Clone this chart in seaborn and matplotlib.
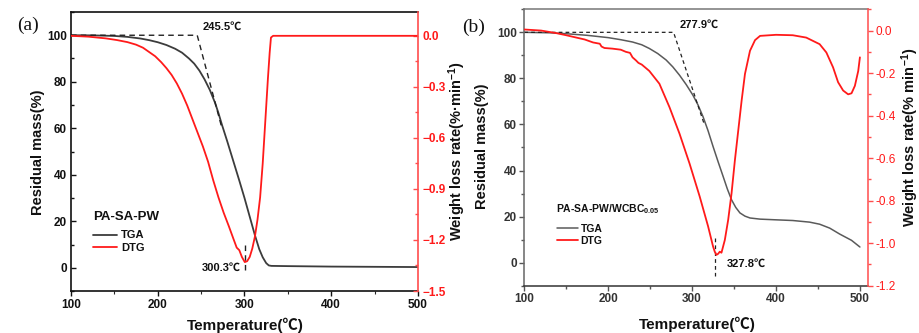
import matplotlib
matplotlib.use("Agg")
import matplotlib.pyplot as plt
import seaborn as sns
from matplotlib.ticker import MultipleLocator, FuncFormatter

# ---------------- data ----------------
# Panel (a) PA-SA-PW
tga_a_temp = [100, 125, 150, 165, 180, 190, 200, 210, 220, 228, 236, 242, 248, 254, 260, 266,
              270, 274, 280, 287, 294, 300, 306, 312, 317, 321, 325, 328, 331, 350, 400, 450, 500]
tga_a_mass = [100, 99.95, 99.7, 99.3, 98.6, 97.9, 97.0, 95.8, 94.2, 92.5, 90.0, 87.8, 84.8, 81.0,
              76.5, 71.0, 66.5, 61.5, 54.5, 46.0, 37.5, 30.0, 22.0, 14.0, 8.0, 4.5, 2.0, 1.0, 0.8,
              0.7, 0.5, 0.4, 0.3]
dtg_a_temp = [100, 120, 140, 153, 165, 175, 183, 190, 197, 204, 210, 216, 222, 228, 234, 240,
              246, 252, 258, 264, 270, 276, 282, 287, 291, 294, 297, 300.3, 303, 306, 309, 312,
              315, 318, 321, 324, 327, 329, 330.5, 333, 400, 500]
dtg_a_rate = [0.0, -0.005, -0.015, -0.025, -0.037, -0.052, -0.07, -0.095, -0.12, -0.155, -0.19,
              -0.23, -0.28, -0.34, -0.41, -0.49, -0.57, -0.65, -0.74, -0.85, -0.95, -1.04, -1.12,
              -1.19, -1.245, -1.26, -1.30, -1.33, -1.325, -1.30, -1.25, -1.18, -1.08, -0.95,
              -0.75, -0.50, -0.25, -0.10, -0.01, 0.0, 0.0, 0.0]
onset_a = 245.5
peak_a = 300.3
tangent_a_end = (274, 60)

# Panel (b) PA-SA-PW/WCBC0.05
tga_b_temp = [100, 130, 150, 175, 200, 215, 229, 240, 249, 259, 269, 277, 285, 293, 301, 307,
              313, 319, 325, 331, 337, 342, 347, 352, 357, 363, 369, 381, 400, 420, 440, 452,
              464, 476, 490, 500]
tga_b_mass = [100, 99.8, 99.4, 98.7, 97.7, 96.8, 95.8, 94.6, 93.0, 90.8, 88.0, 85.0, 81.4, 77.3,
              72.7, 68.5, 63.4, 57.3, 50.4, 43.8, 37.4, 32.0, 27.3, 24.0, 21.6, 20.2, 19.4, 18.9,
              18.6, 18.3, 17.6, 16.7, 15.0, 12.4, 9.7, 6.8]
dtg_b_temp = [100, 120, 138, 150, 162, 172, 182, 190, 192, 195.5, 205, 215, 221, 226, 229,
              233, 236, 240, 249, 261, 273, 285, 297, 309, 319, 325, 327, 329, 331, 333, 335,
              339, 343, 347, 351, 355, 359, 363, 369, 375, 381, 400, 420, 436, 452, 460, 468,
              474, 480, 486, 490, 494, 498, 500]
dtg_b_rate = [0.005, 0.0, -0.012, -0.022, -0.033, -0.042, -0.056, -0.062, -0.075, -0.082,
              -0.085, -0.09, -0.10, -0.105, -0.126, -0.14, -0.152, -0.16, -0.19, -0.25, -0.36,
              -0.485, -0.626, -0.78, -0.92, -1.016, -1.04, -1.055, -1.05, -1.04, -1.045,
              -0.985, -0.89, -0.766, -0.61, -0.47, -0.33, -0.204, -0.095, -0.045, -0.025,
              -0.02, -0.022, -0.033, -0.064, -0.103, -0.173, -0.243, -0.282, -0.30, -0.295,
              -0.26, -0.19, -0.126]
onset_b = 277.9
peak_b = 327.8
tangent_b_end = (314, 60.6)

series_labels = ["TGA", "DTG"]

RED = "#ff1a1a"
RED_AX = "#ff4d4d"
DARK = "#3c3c3c"
GRAY = "#5a5a5a"

sns.set_theme(style="ticks")
plt.rcParams['font.family'] = ['Liberation Sans', 'Noto Sans CJK SC', 'DejaVu Sans']
plt.rcParams['font.weight'] = 'bold'
plt.rcParams['axes.labelweight'] = 'bold'
plt.rcParams['mathtext.fontset'] = 'custom'
plt.rcParams['mathtext.rm'] = 'Liberation Sans:bold'
plt.rcParams['mathtext.bf'] = 'Liberation Sans:bold'
plt.rcParams['mathtext.it'] = 'Liberation Sans:bold'
plt.rcParams['mathtext.default'] = 'bf'

W, H = 920, 333
fig = plt.figure(figsize=(9.2, 3.33), dpi=100)


def rect(l, t, r, b):
    return [l / W, 1 - b / H, (r - l) / W, (b - t) / H]


def fx(px):
    return px / W


def fy(py):
    return 1 - py / H


# ================= Panel (a) =================
A_L, A_T, A_R, A_B = 71, 12, 418, 291
axA = fig.add_axes(rect(A_L, A_T, A_R, A_B))
axA2 = axA.twinx()
sns.lineplot(x=tga_a_temp, y=tga_a_mass, ax=axA, color=DARK, lw=1.3)
sns.lineplot(x=dtg_a_temp, y=dtg_a_rate, ax=axA2, color=RED, lw=1.3)
axA.plot([100, onset_a, tangent_a_end[0]], [100, 100, tangent_a_end[1]],
         ls=(0, (4, 3)), color='#222222', lw=1.0)
axA.plot([peak_a, peak_a], [10, -2.5], ls=(0, (4, 3)), color='#222222', lw=1.0)
axA.text(252, 101.3, "245.5℃", fontsize=8, ha='left', va='bottom', color='#111')
axA.text(296, 0, "300.3℃", fontsize=8, ha='right', va='center', color='#111')

axA.set_xlim(100, 500)
axA.set_ylim(-10, 110)
axA2.set_ylim(-1.5, 0.14)
axA.xaxis.set_major_locator(MultipleLocator(100))
axA.xaxis.set_minor_locator(MultipleLocator(50))
axA.set_yticks(range(0, 101, 20))
axA.yaxis.set_minor_locator(MultipleLocator(10))
axA2.set_yticks([-1.5, -1.2, -0.9, -0.6, -0.3, 0.0])
axA2.yaxis.set_minor_locator(MultipleLocator(0.15))
axA2.yaxis.set_major_formatter(FuncFormatter(
    lambda v, p: ("%.1f" % v).replace("-", "\u2212") if abs(v) > 1e-9 else "0.0"))
axA.tick_params(axis='x', direction='out', length=3.5, width=1, labelsize=8.5, colors='#111', pad=2)
axA.tick_params(axis='x', which='minor', direction='out', length=2, width=0.8)
axA.tick_params(axis='y', which='both', direction='in', length=3.5, width=1, labelsize=8.5,
                colors='#111', pad=3)
axA.tick_params(axis='y', which='minor', length=2)
axA2.tick_params(axis='y', which='both', direction='in', length=3.5, width=1, labelsize=8.5,
                 colors=RED_AX, labelcolor=RED, pad=3)
axA2.tick_params(axis='y', which='minor', length=2)
for s in ['left', 'bottom', 'top']:
    axA.spines[s].set_color('#111')
    axA.spines[s].set_linewidth(1.2)
axA.spines['right'].set_visible(False)
for s in ['left', 'bottom', 'top']:
    axA2.spines[s].set_visible(False)
axA2.spines['right'].set_color(RED_AX)
axA2.spines['right'].set_linewidth(1.2)
axA.set_ylabel("")
axA2.set_ylabel("")
for lab in axA.get_xticklabels() + axA.get_yticklabels() + axA2.get_yticklabels():
    lab.set_fontweight('bold')

fig.text(fx(93), fy(217), "PA-SA-PW", ha='left', va='center', fontsize=9.5,
         fontweight='bold', color='#111')
hA = [axA.get_lines()[0], axA2.get_lines()[0]]
legA = axA.legend(hA, series_labels, loc='upper left',
                  bbox_to_anchor=((93 - A_L) / (A_R - A_L), (A_B - 230.5) / (A_B - A_T)),
                  frameon=False, fontsize=8, handlelength=2.2, handletextpad=0.3,
                  labelspacing=0.25, borderpad=0, borderaxespad=0)
for t in legA.get_texts():
    t.set_fontweight('bold')
    t.set_color('#111')

fig.text(fx(38), fy(152), "Residual mass(%)", rotation=90, ha='center', va='center',
         fontsize=10.5, fontweight='bold', color='#111')
fig.text(fx(457), fy(151), "Weight loss rate(%·min$^{-1}$)", rotation=90, ha='center',
         va='center', fontsize=10.5, fontweight='bold', color='#111')
fig.text(fx(245), fy(325), "Temperature(℃)", ha='center', va='center',
         fontsize=11, fontweight='bold', color='#111')
fig.text(fx(28), fy(25), "(a)", ha='center', va='center', fontsize=14,
         family=['Liberation Serif', 'DejaVu Serif'], fontweight='normal', color='#111')

# ================= Panel (b) =================
B_L, B_T, B_R, B_B = 524.3, 9.3, 868.3, 285.7
axB = fig.add_axes(rect(B_L, B_T, B_R, B_B))
axB2 = axB.twinx()
sns.lineplot(x=tga_b_temp, y=tga_b_mass, ax=axB, color=GRAY, lw=1.1)
sns.lineplot(x=dtg_b_temp, y=dtg_b_rate, ax=axB2, color=RED, lw=1.3)
axB.plot([100, onset_b, tangent_b_end[0]], [100, 100, tangent_b_end[1]],
         ls=(0, (3, 2.5)), color='#222222', lw=0.9)
axB.plot([peak_b, peak_b], [10.7, -6], ls=(0, (3, 2.5)), color='#222222', lw=0.9)
axB.text(285, 101, "277.9℃", fontsize=8, ha='left', va='bottom', color='#111')
axB.text(341.5, -0.5, "327.8℃", fontsize=8, ha='left', va='center', color='#111')

axB.set_xlim(100, 510)
axB.set_ylim(-10, 110)
axB2.set_ylim(-1.2, 0.1)
axB.set_xticks([100, 200, 300, 400, 500])
axB.xaxis.set_minor_locator(MultipleLocator(50))
axB.set_yticks(range(0, 101, 20))
axB.yaxis.set_minor_locator(MultipleLocator(10))
axB2.set_yticks([-1.2, -1.0, -0.8, -0.6, -0.4, -0.2, 0.0])
axB2.yaxis.set_minor_locator(MultipleLocator(0.1))
axB2.yaxis.set_major_formatter(FuncFormatter(lambda v, p: "%.1f" % v if abs(v) > 1e-9 else "0.0"))
axB.tick_params(axis='both', which='both', direction='out', length=3.5, width=1,
                labelsize=8.5, colors='#555', labelcolor='#333', pad=2)
axB.tick_params(axis='both', which='minor', length=2)
axB2.tick_params(axis='y', which='both', direction='out', length=3.5, width=1, labelsize=8.5,
                 colors=RED_AX, labelcolor=RED, pad=2)
axB2.tick_params(axis='y', which='minor', length=2)
axB.spines['left'].set_color('#666')
axB.spines['top'].set_color('#777')
axB.spines['bottom'].set_color('#333')
for s in ['left', 'bottom', 'top']:
    axB.spines[s].set_linewidth(1.1)
axB.spines['right'].set_visible(False)
for s in ['left', 'bottom', 'top']:
    axB2.spines[s].set_visible(False)
axB2.spines['right'].set_color(RED_AX)
axB2.spines['right'].set_linewidth(1.1)
axB.set_ylabel("")
axB2.set_ylabel("")
for lab in axB.get_xticklabels() + axB.get_yticklabels():
    lab.set_fontweight('bold')
for lab in axB2.get_yticklabels():
    lab.set_fontweight('normal')

fig.text(fx(556), fy(209), "PA-SA-PW/WCBC$_{0.05}$", ha='left', va='center', fontsize=7.5,
         fontweight='bold', color='#111')
hB = [axB.get_lines()[0], axB2.get_lines()[0]]
legB = axB.legend(hB, series_labels, loc='upper left',
                  bbox_to_anchor=((557 - B_L) / (B_R - B_L), (B_B - 223.5) / (B_B - B_T)),
                  frameon=False, fontsize=7.5, handlelength=2.0, handletextpad=0.25,
                  labelspacing=0.2, borderpad=0, borderaxespad=0)
for t in legB.get_texts():
    t.set_fontweight('bold')
    t.set_color('#111')

fig.text(fx(482), fy(146), "Residual mass(%)", rotation=90, ha='center', va='center',
         fontsize=10.5, fontweight='bold', color='#111')
fig.text(fx(910), fy(137), "Weight loss rate(% min$^{-1}$)", rotation=90, ha='center',
         va='center', fontsize=10.5, fontweight='bold', color='#111')
fig.text(fx(697), fy(324), "Temperature(℃)", ha='center', va='center',
         fontsize=11, fontweight='bold', color='#111')
fig.text(fx(474), fy(27), "(b)", ha='center', va='center', fontsize=14,
         family=['Liberation Serif', 'DejaVu Serif'], fontweight='normal', color='#111')

fig.savefig("out.png", dpi=100)
